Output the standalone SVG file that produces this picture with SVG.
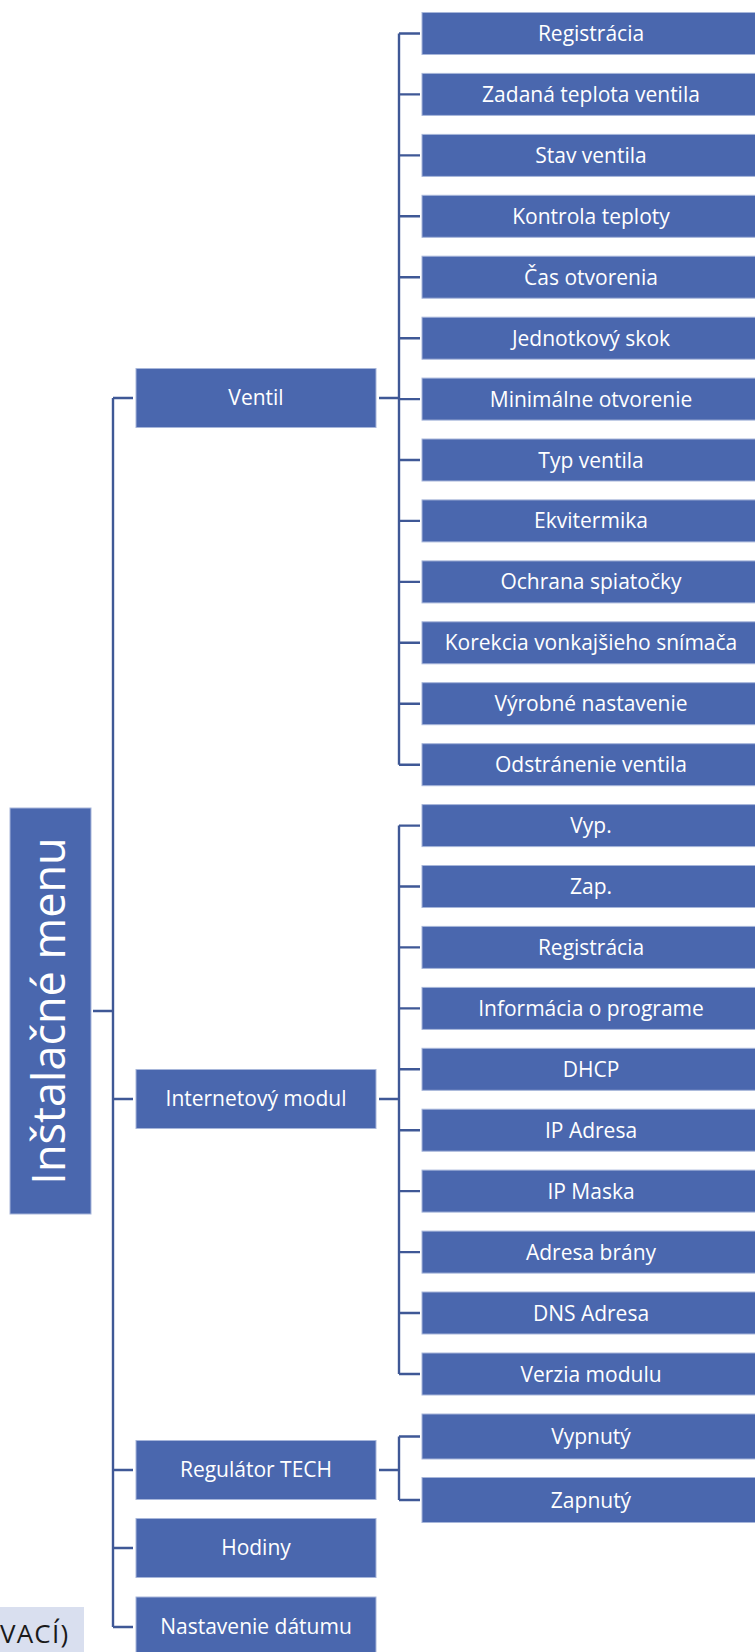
<svg xmlns="http://www.w3.org/2000/svg" width="755" height="1652" viewBox="0 0 755 1652">
<style>
.box{fill:#4A67AE;stroke:#A7B6DA;stroke-width:1}
.t{font-family:"Open Sans","Noto Sans","Liberation Sans",sans-serif;font-size:21px;fill:#FFFFFF;text-anchor:middle}
.c{fill:none;stroke:#3F5896;stroke-width:2.4}
</style>
<rect width="755" height="1652" fill="#FFFFFF"/>
<g id="connectors">
<path class="c" d="M93,1011H113M113,398V1627M113,398H133M113,1099H133M113,1470H133M113,1548H133M113,1627H133"/>
<path class="c" d="M379,398H399M399,33.5V764.7M399,33.5H420M399,94.4H420M399,155.4H420M399,216.3H420M399,277.2H420M399,338.2H420M399,399.1H420M399,460H420M399,520.9H420M399,581.9H420M399,642.8H420M399,703.7H420M399,764.7H420"/>
<path class="c" d="M379,1099H399M399,825.6V1374M399,825.6H420M399,886.5H420M399,947.4H420M399,1008.4H420M399,1069.3H420M399,1130.2H420M399,1191.1H420M399,1252.1H420M399,1313H420M399,1374H420"/>
<path class="c" d="M379,1470H399M399,1436.5V1500M399,1436.5H420M399,1500H420"/>
</g>
<g id="root"><rect class="box" x="10" y="808" width="81" height="406"/><text class="t" style="font-size:45px" transform="translate(65,1011) rotate(-90)" x="0" y="0">Inštalačné menu</text></g>
<g id="ventil"><rect class="box" x="136" y="368.5" width="240" height="59"/><text class="t" x="256" y="405">Ventil</text></g>
<g id="internet"><rect class="box" x="136" y="1069.5" width="240" height="59"/><text class="t" x="256" y="1106">Internetový modul</text></g>
<g id="regulator"><rect class="box" x="136" y="1440.5" width="240" height="59"/><text class="t" x="256" y="1477">Regulátor TECH</text></g>
<g id="hodiny"><rect class="box" x="136" y="1518.5" width="240" height="59"/><text class="t" x="256" y="1555">Hodiny</text></g>
<g id="datum"><rect class="box" x="136" y="1597" width="240" height="60"/><text class="t" x="256" y="1634">Nastavenie dátumu</text></g>
<g id="v1"><rect class="box" x="422" y="12.5" width="338" height="42"/><text class="t" x="591" y="41">Registrácia</text></g>
<g id="v2"><rect class="box" x="422" y="73.4" width="338" height="42"/><text class="t" x="591" y="101.9">Zadaná teplota ventila</text></g>
<g id="v3"><rect class="box" x="422" y="134.4" width="338" height="42"/><text class="t" x="591" y="162.9">Stav ventila</text></g>
<g id="v4"><rect class="box" x="422" y="195.3" width="338" height="42"/><text class="t" x="591" y="223.8">Kontrola teploty</text></g>
<g id="v5"><rect class="box" x="422" y="256.2" width="338" height="42"/><text class="t" x="591" y="284.7">Čas otvorenia</text></g>
<g id="v6"><rect class="box" x="422" y="317.2" width="338" height="42"/><text class="t" x="591" y="345.7">Jednotkový skok</text></g>
<g id="v7"><rect class="box" x="422" y="378.1" width="338" height="42"/><text class="t" x="591" y="406.6">Minimálne otvorenie</text></g>
<g id="v8"><rect class="box" x="422" y="439" width="338" height="42"/><text class="t" x="591" y="467.5">Typ ventila</text></g>
<g id="v9"><rect class="box" x="422" y="499.9" width="338" height="42"/><text class="t" x="591" y="528.4">Ekvitermika</text></g>
<g id="v10"><rect class="box" x="422" y="560.9" width="338" height="42"/><text class="t" x="591" y="589.4">Ochrana spiatočky</text></g>
<g id="v11"><rect class="box" x="422" y="621.8" width="338" height="42"/><text class="t" x="591" y="650.3">Korekcia vonkajšieho snímača</text></g>
<g id="v12"><rect class="box" x="422" y="682.7" width="338" height="42"/><text class="t" x="591" y="711.2">Výrobné nastavenie</text></g>
<g id="v13"><rect class="box" x="422" y="743.7" width="338" height="42"/><text class="t" x="591" y="772.2">Odstránenie ventila</text></g>
<g id="i1"><rect class="box" x="422" y="804.6" width="338" height="42"/><text class="t" x="591" y="833.1">Vyp.</text></g>
<g id="i2"><rect class="box" x="422" y="865.5" width="338" height="42"/><text class="t" x="591" y="894">Zap.</text></g>
<g id="i3"><rect class="box" x="422" y="926.4" width="338" height="42"/><text class="t" x="591" y="954.9">Registrácia</text></g>
<g id="i4"><rect class="box" x="422" y="987.4" width="338" height="42"/><text class="t" x="591" y="1015.9">Informácia o programe</text></g>
<g id="i5"><rect class="box" x="422" y="1048.3" width="338" height="42"/><text class="t" x="591" y="1076.8">DHCP</text></g>
<g id="i6"><rect class="box" x="422" y="1109.2" width="338" height="42"/><text class="t" x="591" y="1137.7">IP Adresa</text></g>
<g id="i7"><rect class="box" x="422" y="1170.1" width="338" height="42"/><text class="t" x="591" y="1198.6">IP Maska</text></g>
<g id="i8"><rect class="box" x="422" y="1231.1" width="338" height="42"/><text class="t" x="591" y="1259.6">Adresa brány</text></g>
<g id="i9"><rect class="box" x="422" y="1292" width="338" height="42"/><text class="t" x="591" y="1320.5">DNS Adresa</text></g>
<g id="i10"><rect class="box" x="422" y="1353" width="338" height="42"/><text class="t" x="591" y="1381.5">Verzia modulu</text></g>
<g id="r1"><rect class="box" x="422" y="1414" width="338" height="45"/><text class="t" x="591" y="1444">Vypnutý</text></g>
<g id="r2"><rect class="box" x="422" y="1477.5" width="338" height="45"/><text class="t" x="591" y="1507.5">Zapnutý</text></g>
<g id="note"><rect x="0" y="1607" width="84" height="50" fill="#D9DFEF"/><text x="0" y="1643" style="font-family:'Open Sans','Liberation Sans',sans-serif;font-size:26px;fill:#1A1A1A;letter-spacing:1.2px">VACÍ)</text></g>
</svg>
